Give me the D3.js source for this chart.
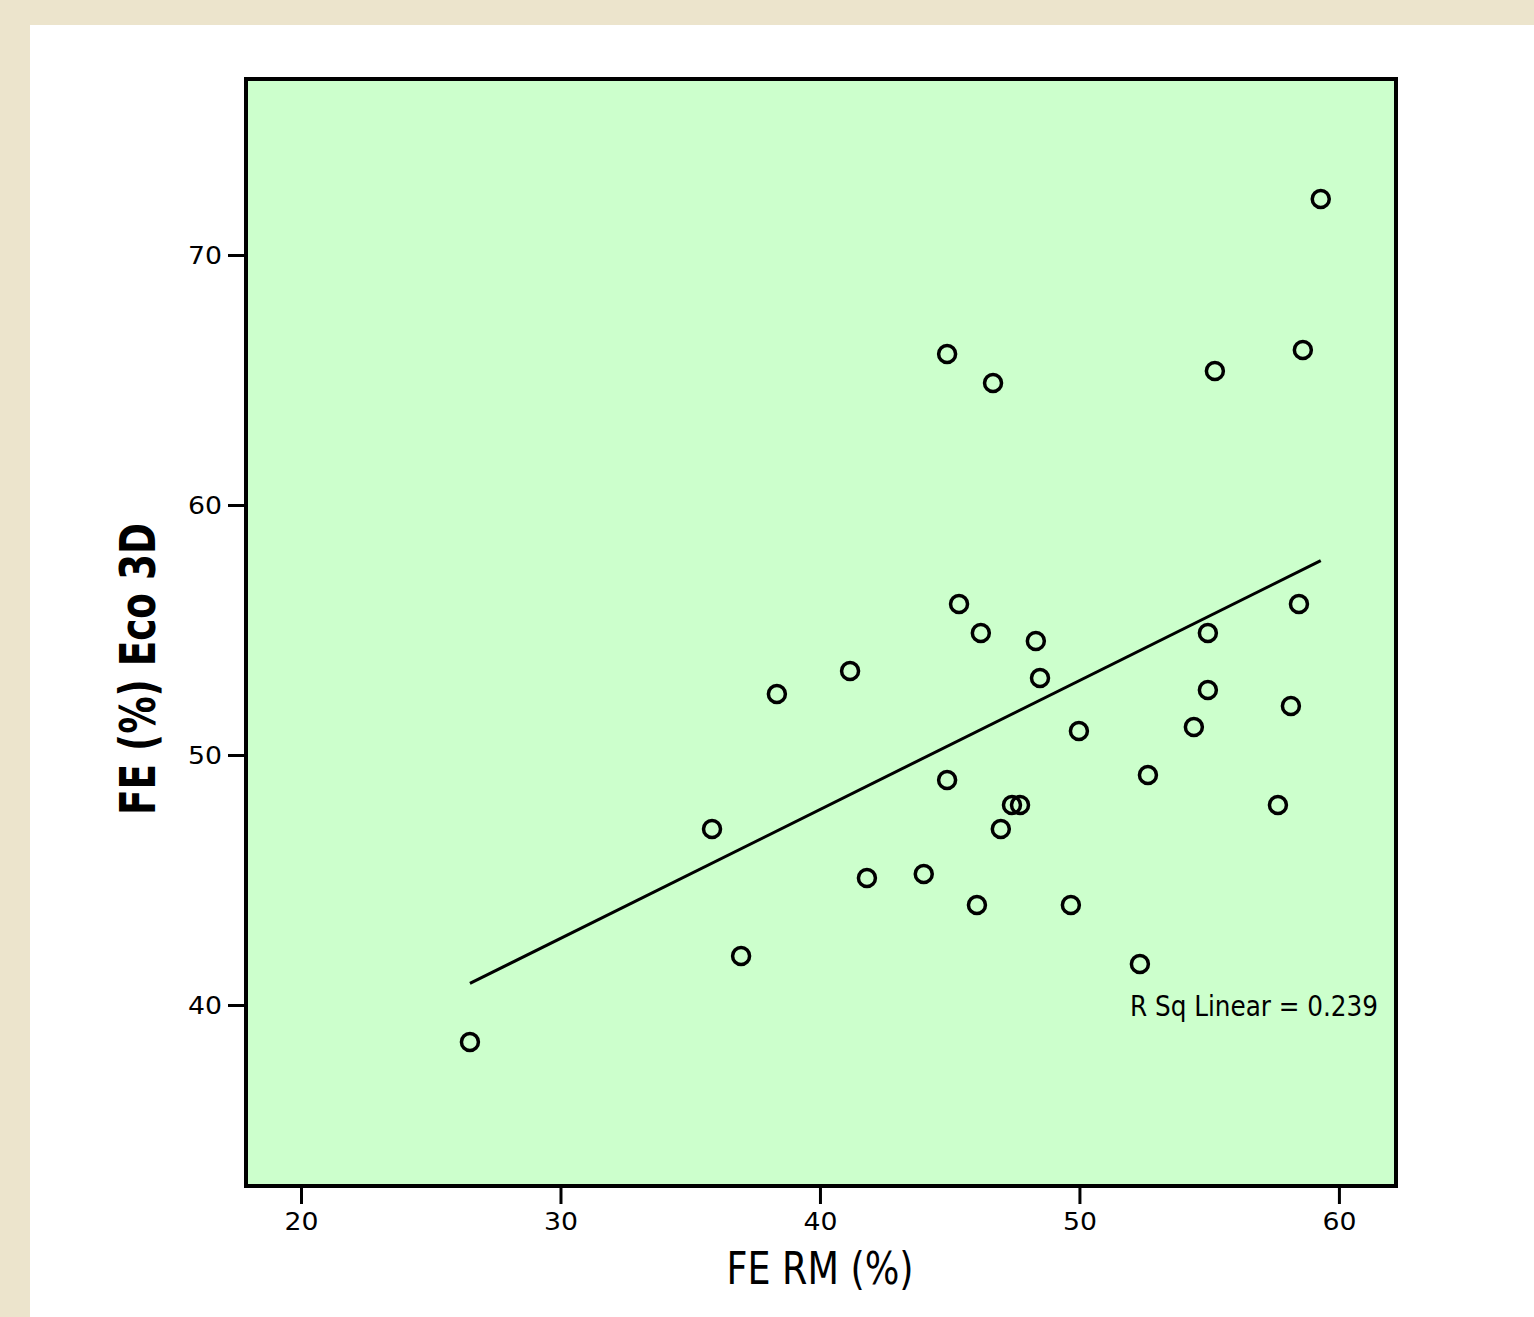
<!DOCTYPE html>
<html>
<head>
<meta charset="utf-8">
<script src="https://cdn.jsdelivr.net/npm/d3@7"></script>
<style>
  html, body { margin: 0; padding: 0; background: #ede5cf; }
  svg { display: block; }
  .tick text { font-family: "Liberation Sans Narrow", "DejaVu Sans Condensed", sans-serif; }
</style>
</head>
<body>
<svg width="1534" height="1317"></svg>
<script>
const width = 1534;
const height = 1317;

// FE RM (%) values
const feRM = [59.3, 44.9, 46.67, 55.22, 58.61, 45.36, 46.2, 48.32, 41.16, 38.34,
    48.48, 54.95, 58.46, 54.95, 58.15, 54.41, 49.98, 44.9, 52.64, 47.4,
    47.71, 57.65, 35.84, 46.97, 41.81, 44.0, 46.05, 49.67, 36.96, 52.33, 26.51];
// FE (%) Eco 3D values
const feEco = [72.24, 66.04, 64.88, 65.36, 66.2, 56.04, 54.88, 54.56, 53.36, 52.44,
    53.08, 54.88, 56.04, 52.6, 51.96, 51.12, 50.96, 49.0, 49.2, 48.0,
    48.0, 48.0, 47.04, 47.04, 45.08, 45.24, 44.0, 44.0, 41.96, 41.64, 38.52];

const xTicks = [20, 30, 40, 50, 60];
const yTicks = [40, 50, 60, 70];
const rSqLabel = "R Sq Linear = 0.239";

const svg = d3.select("svg");

// page background: beige frame + white sheet
svg.append("rect").attr("width", width).attr("height", height).attr("fill", "#ece4cc");
svg.append("rect").attr("x", 30).attr("y", 25).attr("width", width - 30).attr("height", height - 25).attr("fill", "#ffffff");

const plot = { left: 246, top: 79, right: 1396, bottom: 1186 };

const x = d3.scaleLinear().domain([17.88, 62.2]).range([plot.left, plot.right]);
const y = d3.scaleLinear().domain([32.76, 77.04]).range([plot.bottom, plot.top]);

svg.append("rect")
    .attr("x", plot.left).attr("y", plot.top)
    .attr("width", plot.right - plot.left).attr("height", plot.bottom - plot.top)
    .attr("fill", "#ccffcc");

// axes
const xAxis = svg.append("g")
    .attr("transform", `translate(0,${plot.bottom})`)
    .call(d3.axisBottom(x).tickValues(xTicks).tickSize(18).tickPadding(8));
const yAxis = svg.append("g")
    .attr("transform", `translate(${plot.left},0)`)
    .call(d3.axisLeft(y).tickValues(yTicks).tickSize(18).tickPadding(6));

[xAxis, yAxis].forEach(g => {
    g.select(".domain").remove();
    g.selectAll(".tick line").attr("stroke", "#000").attr("stroke-width", 3);
    g.selectAll(".tick text").attr("fill", "#000").attr("font-size", 25)
        .attr("textLength", 34).attr("lengthAdjust", "spacingAndGlyphs");
});

// regression line (least squares on the points)
const n = feRM.length;
const mx = d3.mean(feRM), my = d3.mean(feEco);
let sxy = 0, sxx = 0;
for (let i = 0; i < n; i++) {
    sxy += (feRM[i] - mx) * (feEco[i] - my);
    sxx += (feRM[i] - mx) * (feRM[i] - mx);
}
const slope = sxy / sxx;
const intercept = my - slope * mx;
const [x0, x1] = d3.extent(feRM);

svg.append("line")
    .attr("x1", x(x0)).attr("y1", y(intercept + slope * x0))
    .attr("x2", x(x1)).attr("y2", y(intercept + slope * x1))
    .attr("stroke", "#000").attr("stroke-width", 3);

// points
svg.append("g")
    .selectAll("ellipse")
    .data(feRM.map((v, i) => [v, feEco[i]]))
    .join("ellipse")
    .attr("cx", d => x(d[0]))
    .attr("cy", d => y(d[1]))
    .attr("rx", 8.5)
    .attr("ry", 8.5)
    .attr("fill", "none")
    .attr("stroke", "#000")
    .attr("stroke-width", 3.5);

// frame on top
svg.append("rect")
    .attr("x", plot.left).attr("y", plot.top)
    .attr("width", plot.right - plot.left).attr("height", plot.bottom - plot.top)
    .attr("fill", "none").attr("stroke", "#000").attr("stroke-width", 4);

svg.append("text")
    .attr("x", 1130).attr("y", 1016)
    .attr("font-family", "'Liberation Sans Narrow', 'DejaVu Sans Condensed', sans-serif")
    .attr("font-size", 28)
    .attr("textLength", 248).attr("lengthAdjust", "spacingAndGlyphs")
    .attr("fill", "#000")
    .text(rSqLabel);

// axis titles
svg.append("text")
    .attr("x", 820).attr("y", 1284)
    .attr("text-anchor", "middle")
    .attr("font-family", "'Liberation Sans Narrow', 'DejaVu Sans Condensed', sans-serif")
    .attr("font-size", 44)
    .attr("textLength", 187).attr("lengthAdjust", "spacingAndGlyphs")
    .attr("fill", "#000")
    .text("FE RM (%)");

svg.append("text")
    .attr("transform", `translate(155,669) rotate(-90)`)
    .attr("text-anchor", "middle")
    .attr("font-family", "'Liberation Sans Narrow', 'DejaVu Sans Condensed', sans-serif")
    .attr("font-weight", "bold")
    .attr("font-size", 50)
    .attr("textLength", 292).attr("lengthAdjust", "spacingAndGlyphs")
    .attr("fill", "#000")
    .text("FE (%) Eco 3D");
</script>
</body>
</html>
